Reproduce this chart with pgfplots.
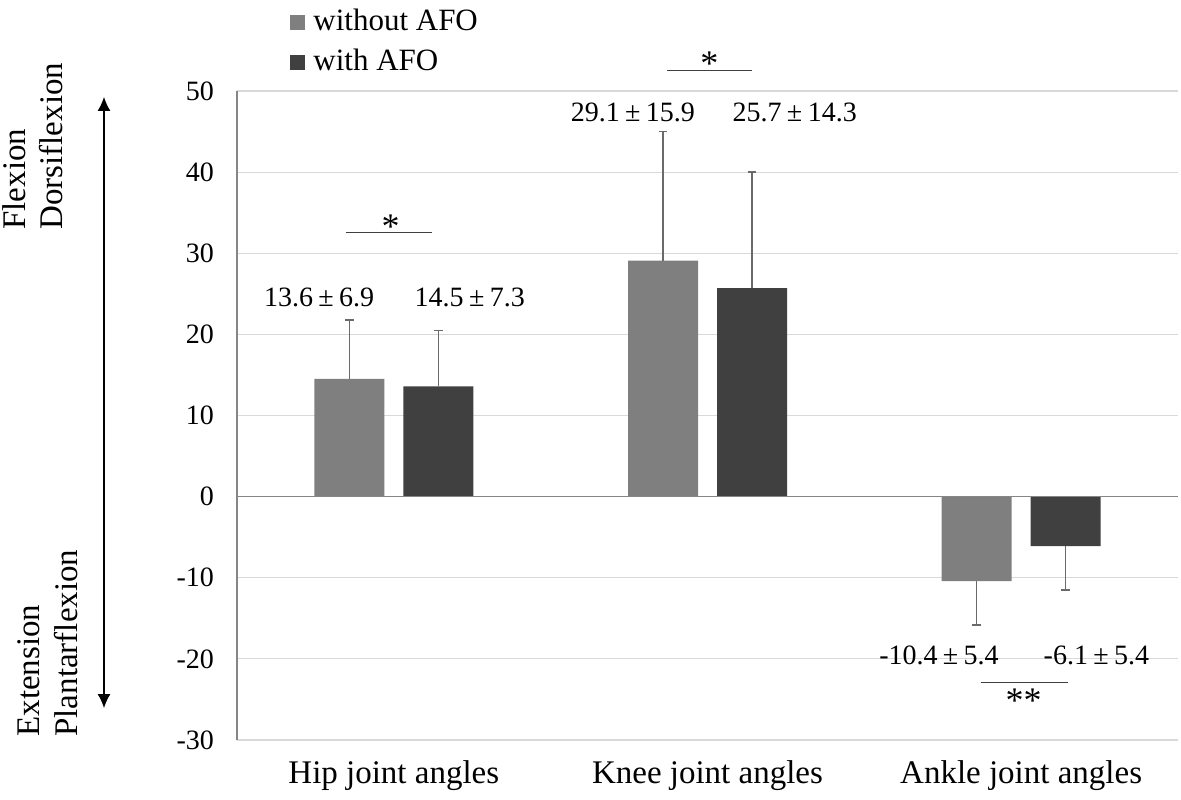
\documentclass[border=0pt]{standalone}
\usepackage{fontspec}
\setmainfont{Liberation Serif}
\usepackage{pgfplots}
\pgfplotsset{compat=1.18}
\usetikzlibrary{arrows.meta}

\definecolor{cwo}{HTML}{7F7F7F}
\definecolor{cwi}{HTML}{404040}
\definecolor{errc}{HTML}{6A6A6A}
\definecolor{gridc}{HTML}{D9D9D9}
\definecolor{axc}{HTML}{868686}

\newcommand{\fs}{\fontsize{14}{17}\selectfont}
\newcommand{\fl}{\fontsize{16.5}{19}\selectfont}
\newcommand{\msd}[2]{#1\kern2.7pt±\kern2.7pt#2}

\pgfplotsset{errs/.style={forget plot, draw=none, fill=none,
    error bars/.cd, y explicit, y dir=#1,
    error bar style={draw=errc, line width=0.75pt},
    error mark=|,
    error mark options={draw=errc, line width=0.75pt, mark size=2.1pt}}}

\begin{document}
\begin{tikzpicture}[font=\fs]
\useasboundingbox (-118.5pt,-29.5pt) rectangle (472pt,370pt);
\begin{axis}[
    scale only axis,
    width=470.5pt, height=324.5pt,
    ybar, bar width=35pt,
    xmin=-0.5, xmax=2.5,
    ymin=-30, ymax=50,
    xtick={0,1,2},
    xticklabels={Hip joint angles, Knee joint angles, Ankle joint angles},
    ytick={-30,-20,...,50},
    yticklabels={-30,-20,-10,0,10,20,30,40,50},
    major tick length=0pt,
    yticklabel style={font=\fs, xshift=-8pt},
    xticklabel style={font=\fl, yshift=-7pt},
    axis lines*=left,
    x axis line style={draw=none},
    y axis line style={draw=axc, line width=0.75pt},
    ymajorgrids, grid style={draw=gridc, line width=0.6pt},
    clip=false,
    legend style={draw=none, fill=none, inner sep=0pt,
        at={(axis description cs:0.0563,1.131)}, anchor=north west,
        font=\fontsize{15.5}{18}\selectfont, row sep=3.5pt,
        nodes={inner sep=1pt, text height=11pt, text depth=3.5pt}},
    legend cell align=left,
    legend image code/.code={\path[#1, draw=none] (0pt,-3.5pt) rectangle (7.5pt,4pt);
        \path (10.5pt,0.25pt);},
]
% bars
\addplot[fill=cwo, draw=none, bar shift=-22.25pt]
    coordinates {(0,14.5) (1,29.1) (2,-10.4)};
\addplot[fill=cwi, draw=none, bar shift=22.25pt]
    coordinates {(0,13.6) (1,25.7) (2,-6.1)};
\legend{without AFO, with AFO}

% one-sided error bars
\addplot[bar shift=-22.25pt, errs=plus]
    coordinates {(0,14.5) +- (0,7.3) (1,29.1) +- (0,15.9)};
\addplot[bar shift=-22.25pt, errs=minus]
    coordinates {(2,-10.4) +- (0,5.4)};
\addplot[bar shift=22.25pt, errs=plus]
    coordinates {(0,13.6) +- (0,6.9) (1,25.7) +- (0,14.3)};
\addplot[bar shift=22.25pt, errs=minus]
    coordinates {(2,-6.1) +- (0,5.4)};

% zero line
\draw[draw=axc, line width=0.75pt] (axis cs:-0.5,0) -- (axis cs:2.5,0);

% value labels
\node at (axis cs:-0.238,24.5) {\msd{13.6}{6.9}};
\node at (axis cs:0.242,24.5) {\msd{14.5}{7.3}};
\node at (axis cs:0.762,47.3) {\msd{29.1}{15.9}};
\node at (axis cs:1.278,47.3) {\msd{25.7}{14.3}};
\node at (axis cs:1.738,-19.6) {\msd{-10.4}{5.4}};
\node at (axis cs:2.24,-19.6) {\msd{-6.1}{5.4}};

% significance
\draw[draw=cwi, line width=0.6pt] (axis cs:-0.154,32.6) -- (axis cs:0.122,32.6);
\node[anchor=base, inner sep=0pt, font=\fontsize{18}{20}\selectfont] at (axis cs:-0.01,31.88) {*};
\draw[draw=cwi, line width=0.6pt] (axis cs:0.871,52.5) -- (axis cs:1.141,52.5);
\node[anchor=base, inner sep=0pt, font=\fontsize{18}{20}\selectfont] at (axis cs:1.006,51.85) {*};
\draw[draw=cwi, line width=0.6pt] (axis cs:1.871,-22.9) -- (axis cs:2.15,-22.9);
\node[anchor=base, inner sep=0pt, font=\fontsize{18}{20}\selectfont] at (axis cs:2.008,-26.55) {**};

% direction arrow and labels
\draw[{Latex[length=7pt,width=6.5pt]}-{Latex[length=7pt,width=6.5pt]}, line width=0.6pt]
    ([xshift=-66.5pt]axis description cs:0,0.9908) -- ([xshift=-66.5pt]axis description cs:0,0.0493);
\begin{scope}[every node/.style={rotate=90, anchor=west, inner sep=0pt, font=\fl}]
\node at ([xshift=-111.5pt, yshift=255pt]axis description cs:0,0) {Flexion};
\node at ([xshift=-93pt, yshift=255pt]axis description cs:0,0) {Dorsiflexion};
\node at ([xshift=-104.25pt, yshift=1.5pt]axis description cs:0,0) {Extension};
\node at ([xshift=-85.25pt, yshift=1.5pt]axis description cs:0,0) {Plantarflexion};
\end{scope}
\end{axis}
\end{tikzpicture}
\end{document}
